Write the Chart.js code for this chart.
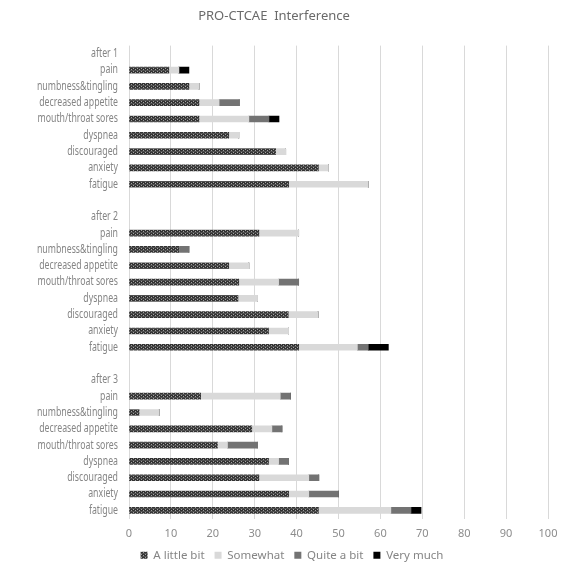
<!DOCTYPE html>
<html>
<head>
<meta charset="utf-8">
<script src="https://cdn.jsdelivr.net/npm/chart.js@4"></script>
<style>
  html, body { margin: 0; padding: 0; background: #ffffff; }
  #wrap { width: 561px; height: 571px; }
</style>
</head>
<body>
<div id="wrap"><canvas id="ctcaeChart" width="561" height="571"></canvas></div>
<script>
// rows top to bottom, group headers and a blank spacer row carry no data
const categories = [
    "after 1", "pain", "numbness&tingling", "decreased appetite", "mouth/throat sores",
    "dyspnea", "discouraged", "anxiety", "fatigue",
    "",
    "after 2", "pain", "numbness&tingling", "decreased appetite", "mouth/throat sores",
    "dyspnea", "discouraged", "anxiety", "fatigue",
    "",
    "after 3", "pain", "numbness&tingling", "decreased appetite", "mouth/throat sores",
    "dyspnea", "discouraged", "anxiety", "fatigue"
];

const littleBit = [
    null, 9.5, 14.3, 16.7, 16.7, 23.8, 35.0, 45.2, 38.1,
    null,
    null, 31.0, 11.9, 23.8, 26.2, 26.0, 38.0, 33.3, 40.5,
    null,
    null, 17.1, 2.4, 29.3, 21.1, 33.3, 31.0, 38.1, 45.2
];
const somewhat = [
    null, 2.4, 2.4, 4.8, 11.9, 2.4, 2.4, 2.4, 19.0,
    null,
    null, 9.5, 0, 4.8, 9.5, 4.7, 7.1, 4.8, 14.0,
    null,
    null, 19.0, 4.8, 4.8, 2.4, 2.4, 11.9, 4.8, 17.3
];
const quiteABit = [
    null, 0, 0, 4.8, 4.8, 0, 0, 0, 0,
    null,
    null, 0, 2.4, 0, 4.8, 0, 0, 0, 2.6,
    null,
    null, 2.4, 0, 2.4, 7.1, 2.4, 2.4, 7.1, 4.8
];
const veryMuch = [
    null, 2.4, 0, 0, 2.4, 0, 0, 0, 0,
    null,
    null, 0, 0, 0, 0, 0, 0, 0, 4.8,
    null,
    null, 0, 0, 0, 0, 0, 0, 0, 2.4
];
const xTicks = [0, 10, 20, 30, 40, 50, 60, 70, 80, 90, 100];

// dark dotted fill like the spreadsheet pattern
function makePattern() {
    const p = document.createElement("canvas");
    p.width = 4;
    p.height = 3;
    const c = p.getContext("2d");
    c.fillStyle = "#333333";
    c.fillRect(0, 0, 4, 3);
    c.fillStyle = "#505050";
    c.fillRect(0, 1, 4, 1);
    c.fillStyle = "#a0a0a0";
    c.fillRect(3, 0, 1, 1);
    c.fillRect(1, 2, 1, 1);
    return c.createPattern(p, "repeat");
}

const labelFont = "12px 'Noto Sans', 'Liberation Sans', sans-serif";
const plainFont = "'Noto Sans', 'Liberation Sans', sans-serif";

// nudge the legend to sit under the plot area like the original
const legendShift = {
    id: "legendShift",
    beforeDraw: function (chart) {
        const lg = chart.legend;
        if (lg && !lg._shifted) {
            lg.left += 18;
            lg.right += 18;
            lg._shifted = true;
        }
    }
};

// category labels in a narrow face (the original uses a condensed japanese font)
const narrowLabels = {
    id: "narrowLabels",
    afterDraw: function (chart) {
        const yScale = chart.scales.y;
        const c = chart.ctx;
        c.save();
        c.font = labelFont;
        c.fillStyle = "#858585";
        c.textAlign = "right";
        c.textBaseline = "middle";
        categories.forEach(function (label, i) {
            if (!label) return;
            const y = yScale.getPixelForValue(i);
            c.save();
            c.translate(118, y);
            c.scale(0.73, 1);
            c.fillText(label, 0, 0);
            c.restore();
        });
        c.restore();
    }
};

const ctx = document.getElementById("ctcaeChart").getContext("2d");

new Chart(ctx, {
    type: "bar",
    data: {
        labels: categories,
        datasets: [
            { label: "A little bit", data: littleBit, backgroundColor: makePattern() },
            { label: "Somewhat", data: somewhat, backgroundColor: "#d9d9d9" },
            { label: "Quite a bit", data: quiteABit, backgroundColor: "#737373" },
            { label: "Very much", data: veryMuch, backgroundColor: "#000000" }
        ]
    },
    options: {
        indexAxis: "y",
        responsive: false,
        animation: false,
        barThickness: 6,
        layout: { padding: { left: 0, right: 13, top: 0, bottom: 0 } },
        scales: {
            x: {
                stacked: true,
                min: 0,
                max: 100,
                afterBuildTicks: function (scale) {
                    scale.ticks = xTicks.map(v => ({ value: v }));
                },
                afterFit: function (scale) {
                    scale.height = 21;
                    scale.paddingLeft = 0;
                    scale.paddingRight = 0;
                },
                grid: { color: "#d9d9d9", drawTicks: false },
                border: { display: false },
                ticks: {
                    color: "#8c8c8c",
                    padding: 9,
                    font: { family: plainFont, size: 11 }
                }
            },
            y: {
                stacked: true,
                afterFit: function (scale) {
                    scale.width = 129;
                },
                grid: { display: false, drawTicks: false },
                border: { display: false },
                ticks: { display: false, autoSkip: false }
            }
        },
        plugins: {
            title: {
                display: true,
                text: "PRO-CTCAE  Interference",
                color: "#6a6a6a",
                font: { family: plainFont, size: 13, weight: "normal" },
                padding: { top: 8, bottom: 22 }
            },
            legend: {
                position: "bottom",
                labels: {
                    color: "#858585",
                    boxWidth: 7,
                    boxHeight: 7,
                    padding: 10,
                    font: { family: plainFont, size: 11.5 }
                }
            },
            tooltip: { enabled: false }
        }
    },
    plugins: [legendShift, narrowLabels]
});
</script>
</body>
</html>
